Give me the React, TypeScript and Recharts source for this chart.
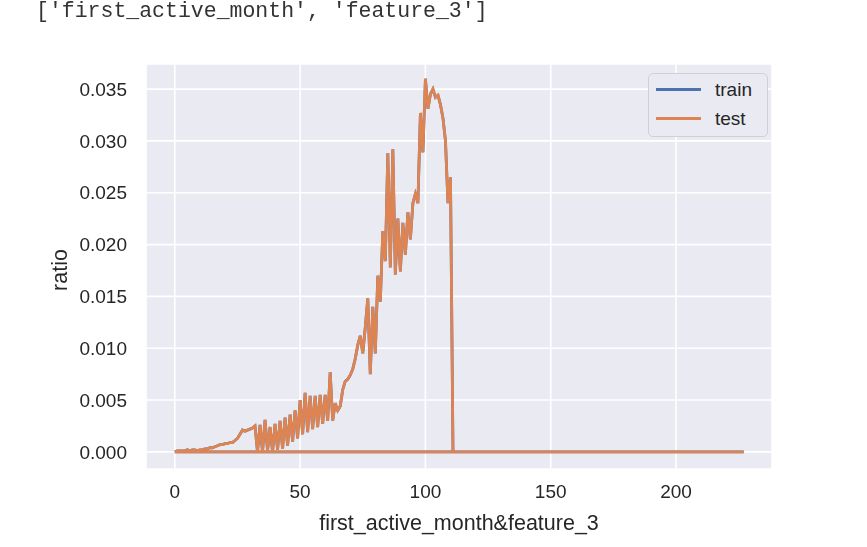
import React from 'react';
import { LineChart, Line, XAxis, YAxis, CartesianGrid } from 'recharts';

// path order matters: curve up to the drop, then the flat zero runs
const xValues = [
  0, 1, 2, 3, 4, 5, 6, 7, 8, 9, 10, 11, 12, 13, 14, 15, 16, 17, 18, 19,
  20, 21, 22, 23, 24, 25, 26, 27, 28, 29, 30, 31, 32, 33, 34, 35, 36, 37, 38, 39,
  40, 41, 42, 43, 44, 45, 46, 47, 48, 49, 50, 51, 52, 53, 54, 55, 56, 57, 58, 59,
  60, 61, 62, 63, 64, 65, 66, 67, 68, 69, 70, 71, 72, 73, 74, 75, 76, 77, 78, 79,
  80, 81, 82, 83, 84, 85, 86, 87, 88, 89, 90, 91, 92, 93, 94, 95, 96, 97, 98, 99,
  100, 101, 102, 103, 104, 105, 106, 107, 108, 109, 110, 111, 115, 0, 227,
];

const testValues = [
  0, 0.0001, 0.0001, 0.0001, 0.0001, 0.0002, 0.0001, 0.0002, 0.0002, 0.0001,
  0.0002, 0.0002, 0.0003, 0.0003, 0.0004, 0.0004, 0.0005, 0.0006, 0.0007, 0.0007,
  0.0008, 0.0008, 0.0009, 0.0009, 0.0011, 0.0013, 0.0017, 0.0021, 0.0020, 0.0021,
  0.0022, 0.0023, 0.0025, 0.0000, 0.0026, 0.0000, 0.0031, 0.0001, 0.0024, 0.0000,
  0.0027, 0.0002, 0.0030, 0.0003, 0.0033, 0.0006, 0.0036, 0.0010, 0.0040, 0.0013,
  0.0050, 0.0017, 0.0057, 0.0019, 0.0054, 0.0022, 0.0054, 0.0024, 0.0055, 0.0027,
  0.0055, 0.0030, 0.0077, 0.0030, 0.0047, 0.0040, 0.0044, 0.0060, 0.0068, 0.0070,
  0.0074, 0.0080, 0.0090, 0.0103, 0.0112, 0.0095, 0.0120, 0.0148, 0.0075, 0.0140,
  0.0095, 0.0170, 0.0145, 0.0213, 0.0184, 0.0288, 0.0178, 0.0292, 0.0171, 0.0225,
  0.0174, 0.0221, 0.0190, 0.0231, 0.0205, 0.0240, 0.0249, 0.0240, 0.0327, 0.0289,
  0.0360, 0.0331, 0.0345, 0.0350, 0.0342, 0.0344, 0.0335, 0.0322, 0.0300, 0.0240,
  0.0265, 0, 0, 0, 0,
];

// train sits underneath test and is not visible anywhere
const trainValues = testValues;

const xTicks = [0, 50, 100, 150, 200];
const yTicks = [0, 0.005, 0.01, 0.015, 0.02, 0.025, 0.03, 0.035];

const data = xValues.map((x, i) => ({ x, train: trainValues[i], test: testValues[i] }));

const BLUE = '#4c72b0';
const ORANGE = '#dd8452';
const TEXT = '#262626';
const FONT = '"Liberation Sans", Arial, sans-serif';

function LegendBox() {
  return (
    <div
      style={{
        position: 'absolute',
        left: 648,
        top: 73,
        width: 120,
        height: 64,
        background: '#eaeaf2',
        border: '1px solid #cfcfd6',
        borderRadius: 5,
        fontFamily: FONT,
        fontSize: 19,
        color: TEXT,
        boxSizing: 'border-box',
        paddingTop: 1,
      }}
    >
      {[
        { name: 'train', color: BLUE },
        { name: 'test', color: ORANGE },
      ].map((item) => (
        <div key={item.name} style={{ display: 'flex', alignItems: 'center', height: 29 }}>
          <div style={{ width: 45, height: 3, background: item.color, marginLeft: 7, marginRight: 14 }} />
          <span>{item.name}</span>
        </div>
      ))}
    </div>
  );
}

export default function App() {
  return (
    <div style={{ position: 'fixed', left: 0, top: 0, width: 867, height: 547, background: '#fff' }}>
      <div
        style={{
          position: 'absolute',
          left: 36,
          top: -1,
          fontFamily: '"Liberation Mono", monospace',
          fontSize: 21.5,
          color: '#333',
          whiteSpace: 'pre',
        }}
      >
        ['first_active_month', 'feature_3']
      </div>
      <LineChart
        width={867}
        height={547}
        data={data}
        margin={{ top: 64, right: 95, left: 0, bottom: 0 }}
        style={{ position: 'absolute', left: 0, top: 0 }}
      >
        <CartesianGrid fill="#eaeaf2" stroke="#ffffff" strokeWidth={1.6} />
        <XAxis
          dataKey="x"
          type="number"
          domain={[-11.5, 238.3]}
          ticks={xTicks}
          axisLine={false}
          tickLine={false}
          tickSize={0}
          tickMargin={16}
          height={78}
          allowDataOverflow
          tick={{ fill: TEXT, fontSize: 19, fontFamily: FONT }}
          label={{
            value: 'first_active_month&feature_3',
            position: 'insideBottom',
            offset: 17,
            fill: TEXT,
            fontSize: 21.5,
            fontFamily: FONT,
          }}
        />
        <YAxis
          type="number"
          domain={[-0.00165, 0.03742]}
          ticks={yTicks}
          allowDataOverflow
          axisLine={false}
          tickLine={false}
          tickSize={0}
          tickMargin={19}
          width={146}
          tickFormatter={(v: number) => v.toFixed(3)}
          tick={{ fill: TEXT, fontSize: 19, fontFamily: FONT }}
          label={{
            content: () => (
              <text
                x={67}
                y={270}
                transform="rotate(-90 67 270)"
                textAnchor="middle"
                fill={TEXT}
                fontSize={21.5}
                fontFamily={FONT}
              >
                ratio
              </text>
            ),
          }}
        />
        <Line
          dataKey="train"
          stroke={BLUE}
          strokeWidth={2.8}
          dot={false}
          isAnimationActive={false}
          type="linear"
        />
        <Line
          dataKey="test"
          stroke={ORANGE}
          strokeWidth={2.8}
          dot={false}
          isAnimationActive={false}
          type="linear"
        />
      </LineChart>
      <LegendBox />
    </div>
  );
}
